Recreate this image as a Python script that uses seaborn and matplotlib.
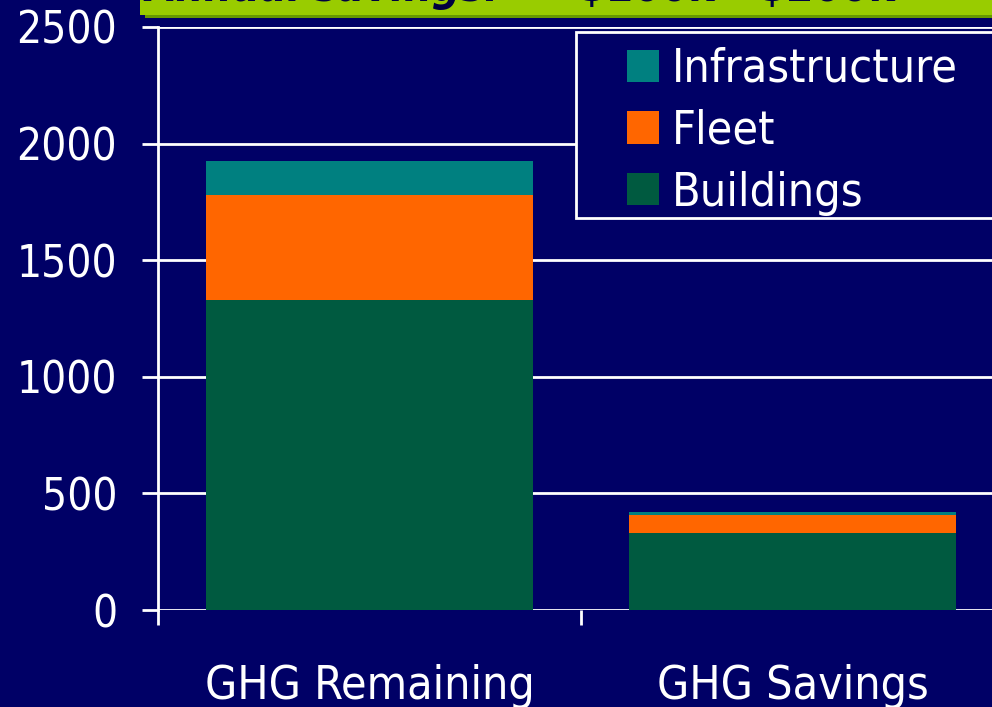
import matplotlib
matplotlib.use("Agg")
import matplotlib.pyplot as plt
from matplotlib.patches import Rectangle
import seaborn as sns
import numpy as np

categories = ["GHG Remaining", "GHG Savings"]
buildings = [1330, 330]
fleet = [451, 78]
infrastructure = [146, 12]
y_ticks = [0, 500, 1000, 1500, 2000, 2500]

NAVY = "#000066"
TEAL = "#008080"
ORANGE = "#FF6600"
GREEN = "#005A40"

sns.set_theme(style="white")
plt.rcParams["font.family"] = ["DejaVu Sans"]
plt.rcParams["font.stretch"] = "condensed"

W, H = 992, 707
fig = plt.figure(figsize=(W / 100, H / 100), dpi=100, facecolor=NAVY)
ax = fig.add_axes([158 / W, (H - 610) / H, 846 / W, 583 / H])
ax.set_facecolor(NAVY)

b = np.array(buildings)
f = np.array(fleet)
i = np.array(infrastructure)
tot_inf = b + f + i
tot_fleet = b + f

sns.barplot(x=categories, y=tot_inf, color=TEAL, saturation=1, width=0.775,
            linewidth=0, label="Infrastructure", ax=ax, zorder=3)
sns.barplot(x=categories, y=tot_fleet, color=ORANGE, saturation=1, width=0.775,
            linewidth=0, label="Fleet", ax=ax, zorder=3)
sns.barplot(x=categories, y=b, color=GREEN, saturation=1, width=0.775,
            linewidth=0, label="Buildings", ax=ax, zorder=3)

# legend frame
ax.add_patch(Rectangle((576 / W, 1 - 218 / H), 0.6, (218 - 32) / H,
                       transform=fig.transFigure, clip_on=False, zorder=4,
                       facecolor=NAVY, edgecolor="white", linewidth=2))

ax.set_xlim(-0.5, 1.5)
ax.set_ylim(0, 2500)
ax.set_yticks(y_ticks)
ax.set_yticklabels([str(t) for t in y_ticks])
ax.set_xticks([0, 1])
ax.set_xticklabels(categories)
ax.set_xticks([-0.5, 0.5, 1.5], minor=True)
ax.set_xlabel("")
ax.set_ylabel("")

ax.yaxis.grid(True, color="white", linewidth=2)
ax.set_axisbelow(True)
for s in ["top", "right", "bottom"]:
    ax.spines[s].set_visible(False)
ax.spines["left"].set_color("white")
ax.spines["left"].set_linewidth(2)

fs = 31.7
ax.tick_params(axis="y", which="major", length=11.5, width=2, color="white",
               labelcolor="white", labelsize=fs, pad=18, left=True)
ax.tick_params(axis="x", which="major", length=0, labelcolor="white",
               labelsize=33.3, pad=39, bottom=True)
ax.tick_params(axis="x", which="minor", length=11, width=2, color="white",
               bottom=True)

lfs = 33.5
leg = ax.legend(loc="upper left", bbox_to_anchor=(627 / W, 1 - 47 / H),
                bbox_transform=fig.transFigure, frameon=False, fontsize=lfs,
                handlelength=0.688, handleheight=0.688, handletextpad=0.28,
                labelspacing=0.36, borderpad=0, borderaxespad=0)
leg.set_zorder(5)
for t in leg.get_texts():
    t.set_color("white")

# top banner (cut-off title strip)
fig.add_artist(Rectangle((145 / W, 1 - 18 / H), 1, 18 / H,
                         transform=fig.transFigure, facecolor="#669900",
                         edgecolor="none", zorder=1))
fig.add_artist(Rectangle((140 / W, 1 - 15 / H), 1, 15 / H,
                         transform=fig.transFigure, facecolor="#99CC00",
                         edgecolor="none", zorder=2))
fig.text(146 / W, 1 - 1 / H, "Annual savings:", fontsize=fs, color="#000040",
         fontweight="bold", fontstyle="italic", va="baseline", zorder=3)
fig.text(578 / W, 1 - 1 / H, "\\$100k - \\$200k", fontsize=fs, color="#000040",
         fontweight="bold", va="baseline", zorder=3)

fig.savefig("out.png", dpi=100, facecolor=NAVY)
